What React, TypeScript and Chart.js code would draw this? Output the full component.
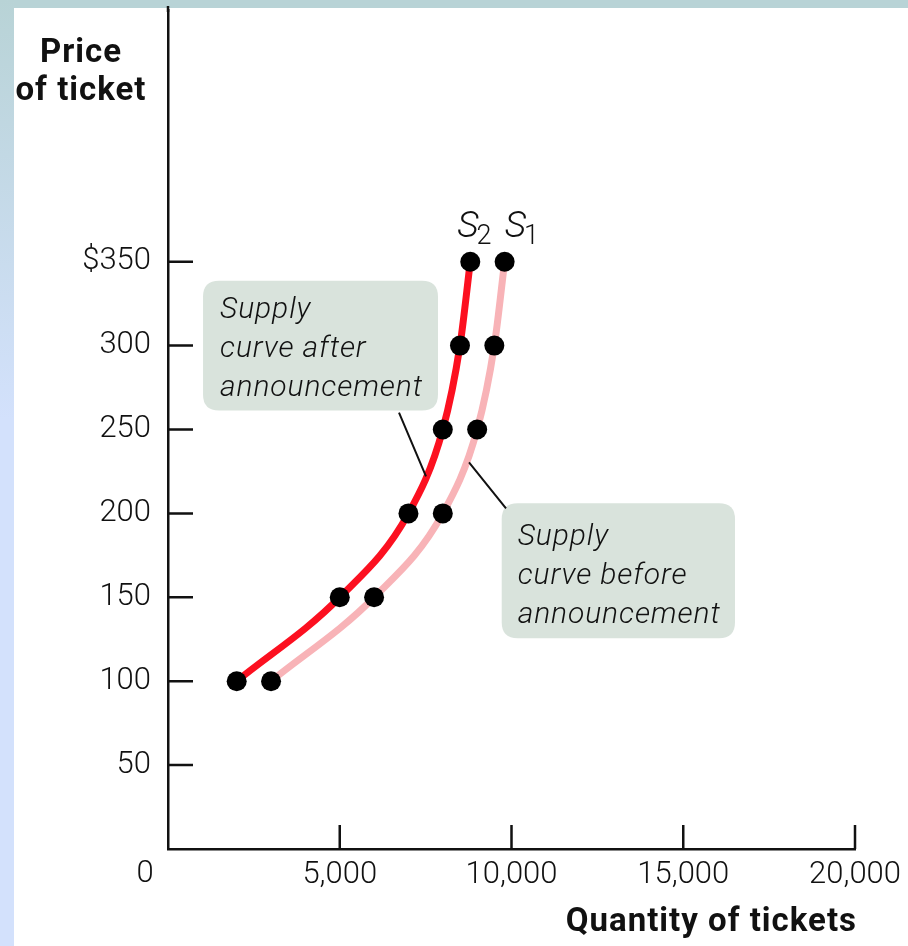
import React, { useEffect, useRef } from 'react';
import { Chart, registerables } from 'chart.js';

Chart.register(...registerables);

// ---- data ----
const priceLevels = [100, 150, 200, 250, 300, 350];
const quantityBefore = [3000, 6000, 8000, 9000, 9500, 9800]; // S1
const quantityAfter = [2000, 5000, 7000, 8000, 8500, 8800]; // S2
const yTickValues = [50, 100, 150, 200, 250, 300, 350];
const xTickValues = [5000, 10000, 15000, 20000];
const yAxisTitle = ['Price', 'of ticket'];
const xAxisTitle = 'Quantity of tickets';
const noteAfter = ['Supply', 'curve after', 'announcement'];
const noteBefore = ['Supply', 'curve before', 'announcement'];

const TICK_FONT = '300 31px Roboto';
const INK = '#111111';

function roundRect(ctx: CanvasRenderingContext2D, x: number, y: number, w: number, h: number, r: number) {
  ctx.beginPath();
  ctx.moveTo(x + r, y);
  ctx.lineTo(x + w - r, y);
  ctx.quadraticCurveTo(x + w, y, x + w, y + r);
  ctx.lineTo(x + w, y + h - r);
  ctx.quadraticCurveTo(x + w, y + h, x + w - r, y + h);
  ctx.lineTo(x + r, y + h);
  ctx.quadraticCurveTo(x, y + h, x, y + h - r);
  ctx.lineTo(x, y + r);
  ctx.quadraticCurveTo(x, y, x + r, y);
  ctx.closePath();
}

const decorPlugin = {
  id: 'decor',
  beforeDraw(chart: any) {
    const { ctx, width, height } = chart;
    ctx.save();
    ctx.fillStyle = '#ffffff';
    ctx.fillRect(0, 0, width, height);
    ctx.fillStyle = '#b8d3d6';
    ctx.fillRect(0, 0, width, 8);
    const g = ctx.createLinearGradient(0, 0, 0, 420);
    g.addColorStop(0, '#b8d3d6');
    g.addColorStop(1, '#d3e1fc');
    ctx.fillStyle = g;
    ctx.fillRect(0, 0, 14, height);
    ctx.restore();
  },
  afterDatasetsDraw(chart: any) {
    const { ctx, chartArea } = chart;
    const xs = chart.scales.x;
    const ys = chart.scales.y;
    const X = (v: number) => xs.getPixelForValue(v);
    const Y = (v: number) => ys.getPixelForValue(v);
    ctx.save();

    // axis line up to top band
    ctx.strokeStyle = INK;
    ctx.lineWidth = 2.5;
    ctx.beginPath();
    ctx.moveTo(chartArea.left, 6);
    ctx.lineTo(chartArea.left, chartArea.top + 2);
    ctx.stroke();

    // inward tick marks
    ctx.beginPath();
    yTickValues.forEach((v) => {
      ctx.moveTo(chartArea.left, Y(v));
      ctx.lineTo(chartArea.left + 25, Y(v));
    });
    xTickValues.forEach((v) => {
      ctx.moveTo(X(v), chartArea.bottom);
      ctx.lineTo(X(v), chartArea.bottom - 24);
    });
    ctx.stroke();

    // origin label
    ctx.fillStyle = INK;
    ctx.font = TICK_FONT;
    ctx.textAlign = 'center';
    ctx.textBaseline = 'middle';
    ctx.fillText('0', X(0) - 23, Y(0) + 25);

    // axis titles
    ctx.font = 'bold 33px Roboto';
    (ctx as any).letterSpacing = '1px';
    ctx.textAlign = 'center';
    ctx.textBaseline = 'alphabetic';
    ctx.fillText(yAxisTitle[0], 81, 62);
    ctx.fillText(yAxisTitle[1], 81, 100);
    ctx.textAlign = 'right';
    ctx.fillText(xAxisTitle, chartArea.right + 2, 931);
    (ctx as any).letterSpacing = '0px';

    // annotation boxes
    const boxes = [
      { x0: 1020, x1: 7860, y0: 338.7, y1: 261.3, lines: noteAfter, dx: 17, by: [37, 76, 115] },
      { x0: 9715, x1: 16507, y0: 206, y1: 125.6, lines: noteBefore, dx: 16, by: [42, 81, 120] },
    ];
    boxes.forEach((b) => {
      const left = X(b.x0);
      const right = X(b.x1);
      const top = Y(b.y0);
      const bottom = Y(b.y1);
      ctx.fillStyle = '#d9e3dc';
      roundRect(ctx, left, top, right - left, bottom - top, 16);
      ctx.fill();
      ctx.fillStyle = INK;
      ctx.font = 'italic 300 30px Roboto';
      (ctx as any).letterSpacing = '0.9px';
      ctx.textAlign = 'left';
      ctx.textBaseline = 'alphabetic';
      b.lines.forEach((t, i) => ctx.fillText(t, left + b.dx, top + b.by[i]));
      (ctx as any).letterSpacing = '0px';
    });

    // leader lines
    ctx.strokeStyle = INK;
    ctx.lineWidth = 2;
    ctx.beginPath();
    ctx.moveTo(X(6725), Y(260.1));
    ctx.lineTo(X(7511), Y(222));
    ctx.moveTo(X(8763), Y(230.4));
    ctx.lineTo(X(9840), Y(203));
    ctx.stroke();

    // curve labels
    const last = priceLevels.length - 1;
    const labels = [
      { q: quantityAfter[last], sub: '2', dx: -13 },
      { q: quantityBefore[last], sub: '1', dx: 0 },
    ];
    labels.forEach((l) => {
      const px = X(l.q) + l.dx;
      const py = Y(priceLevels[last]);
      ctx.fillStyle = INK;
      ctx.textAlign = 'left';
      ctx.textBaseline = 'alphabetic';
      ctx.font = 'italic 300 37px Roboto';
      ctx.fillText('S', px, py - 25);
      const w = ctx.measureText('S').width;
      ctx.font = '300 27px Roboto';
      ctx.fillText(l.sub, px + w - 2, py - 18);
    });

    ctx.restore();
  },
};

export default function App() {
  const ref = useRef<HTMLCanvasElement | null>(null);
  useEffect(() => {
    if (!ref.current) return;
    const chart = new Chart(ref.current, {
      type: 'line',
      data: {
        datasets: [
          {
            label: 'S1',
            data: quantityBefore.map((q, i) => ({ x: q, y: priceLevels[i] })),
            borderColor: '#f8b3b7',
            borderWidth: 7,
            cubicInterpolationMode: 'monotone',
            pointRadius: 10,
            pointHoverRadius: 10,
            pointBackgroundColor: '#000000',
            pointBorderWidth: 0,
            fill: false,
          },
          {
            label: 'S2',
            data: quantityAfter.map((q, i) => ({ x: q, y: priceLevels[i] })),
            borderColor: '#fc1020',
            borderWidth: 7,
            cubicInterpolationMode: 'monotone',
            pointRadius: 10,
            pointHoverRadius: 10,
            pointBackgroundColor: '#000000',
            pointBorderWidth: 0,
            fill: false,
          },
        ],
      },
      options: {
        responsive: false,
        animation: false,
        events: [],
        layout: { padding: { top: 9, right: 53, left: 0, bottom: 0 } },
        plugins: { legend: { display: false }, tooltip: { enabled: false } },
        scales: {
          x: {
            type: 'linear',
            min: 0,
            max: 20000,
            grid: { display: false, drawTicks: false },
            border: { display: true, color: INK, width: 2.5 },
            afterBuildTicks: (s: any) => {
              s.ticks = xTickValues.map((v) => ({ value: v }));
            },
            afterFit: (s: any) => {
              s.height = 97;
              s.paddingLeft = 0;
              s.paddingRight = 0;
            },
            ticks: {
              autoSkip: false,
              maxRotation: 0,
              padding: 8,
              color: INK,
              font: { family: 'Roboto', size: 31, weight: '300' },
              callback: (v: any) => Number(v).toLocaleString('en-US'),
            },
          },
          y: {
            type: 'linear',
            min: 0,
            max: 500,
            grid: { display: false, drawTicks: false },
            border: { display: true, color: INK, width: 2.5 },
            afterBuildTicks: (s: any) => {
              s.ticks = yTickValues.map((v) => ({ value: v }));
            },
            afterFit: (s: any) => {
              s.width = 168;
              s.paddingTop = 0;
              s.paddingBottom = 0;
            },
            ticks: {
              autoSkip: false,
              padding: 17,
              color: INK,
              font: { family: 'Roboto', size: 31, weight: '300' },
              callback: (v: any) => (v === 350 ? '$350' : String(v)),
            },
          },
        },
      },
      plugins: [decorPlugin],
    } as any);
    return () => chart.destroy();
  }, []);
  return (
    <div style={{ position: 'absolute', left: 0, top: 0, width: 908, height: 946 }}>
      <canvas ref={ref} width={908} height={946} style={{ display: 'block' }} />
    </div>
  );
}
